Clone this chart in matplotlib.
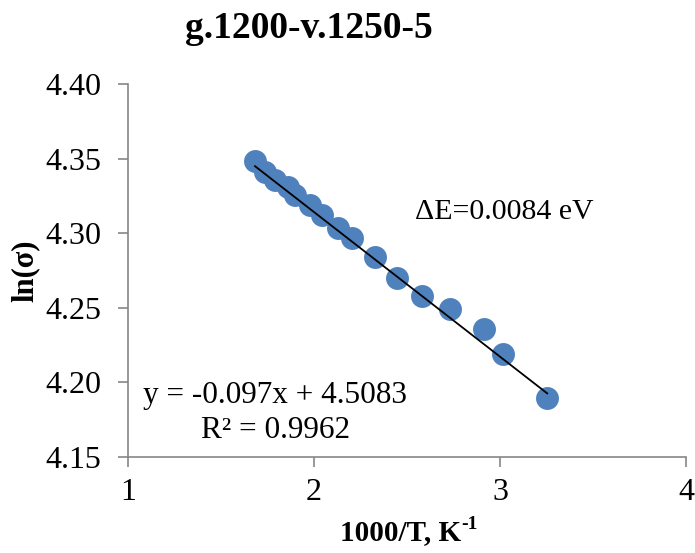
import matplotlib
matplotlib.use("Agg")
import matplotlib.pyplot as plt
import matplotlib.transforms as mtransforms
import numpy as np

# Inverse temperature (1000/T, K^-1) and ln(conductivity)
inv_temp = [1.683, 1.737, 1.790, 1.860, 1.898, 1.978, 2.043, 2.129,
            2.204, 2.328, 2.445, 2.579, 2.731, 2.914, 3.016, 3.254]
ln_sigma = [4.3487, 4.3413, 4.3358, 4.3310, 4.3257, 4.3190, 4.3123, 4.3036,
            4.2969, 4.2843, 4.2698, 4.2582, 4.2492, 4.2358, 4.2190, 4.1897]

# Linear trendline coefficients
slope = -0.097
intercept = 4.5083
r_squared = 0.9962
activation_energy = 0.0084

x_ticks = [1, 2, 3, 4]
y_ticks = [4.15, 4.20, 4.25, 4.30, 4.35, 4.40]

plt.rcParams['font.family'] = ['Liberation Serif', 'DejaVu Serif']

W, H = 695, 553
fig = plt.figure(figsize=(W / 100, H / 100), dpi=100)
ax = fig.add_axes([0.1842, 0.1736, 0.8028, 0.674])

ax.plot(inv_temp, ln_sigma, 'o', color='#4F81BD', markersize=16.5,
        markeredgewidth=0, zorder=2)

x_fit = np.array([min(inv_temp), max(inv_temp)])
ax.plot(x_fit, slope * x_fit + intercept, color='black', linewidth=1.3, zorder=3)

ax.set_xlim(1, 4)
ax.set_ylim(4.15, 4.40)
ax.set_xticks(x_ticks)
ax.set_xticklabels([str(t) for t in x_ticks])
ax.set_yticks(y_ticks)
ax.set_yticklabels([f"{t:.2f}" for t in y_ticks])

for side in ('top', 'right'):
    ax.spines[side].set_visible(False)
for side in ('left', 'bottom'):
    ax.spines[side].set_color('#868686')
    ax.spines[side].set_linewidth(1.2)

ax.tick_params(axis='both', direction='out', color='#868686', width=1.2,
               length=7, labelsize=23, labelcolor='black')
ax.tick_params(axis='y', pad=12)
ax.tick_params(axis='x', pad=8)

# Chart title
fig.text(309 / W, 1 - 38 / H, 'g.1200-v.1250-5', fontsize=27,
         fontweight='bold', ha='center', va='baseline')

# Y axis label
ax.set_ylabel('ln(σ)', fontsize=22, fontweight='bold', labelpad=4)

# X axis label with a plain-text superscript
xl_main = fig.text(0, 1 - 540 / H, '1000/T, K', fontsize=21,
                   fontweight='bold', ha='left', va='baseline')
xl_sup = fig.text(0, 1 - 529 / H, '-1', fontsize=14,
                  fontweight='bold', ha='left', va='baseline')
fig.canvas.draw()
renderer = fig.canvas.get_renderer()
w_main = xl_main.get_window_extent(renderer).width
w_sup = xl_sup.get_window_extent(renderer).width
start = 409 - (w_main + w_sup) / 2
xl_main.set_x(start / W)
xl_sup.set_x((start + w_main) / W)

# Annotations
ax.text(2.543, 4.3143, f'ΔE={activation_energy} eV', fontsize=21.5,
        ha='left', va='center')
ax.text(1.081, 4.191, f'y = {slope}x + {intercept}', fontsize=22.5,
        ha='left', va='center')
ax.text(1.392, 4.168, f'R² = {r_squared}', fontsize=22.5,
        ha='left', va='center')

fig.savefig('out.png', dpi=100)
